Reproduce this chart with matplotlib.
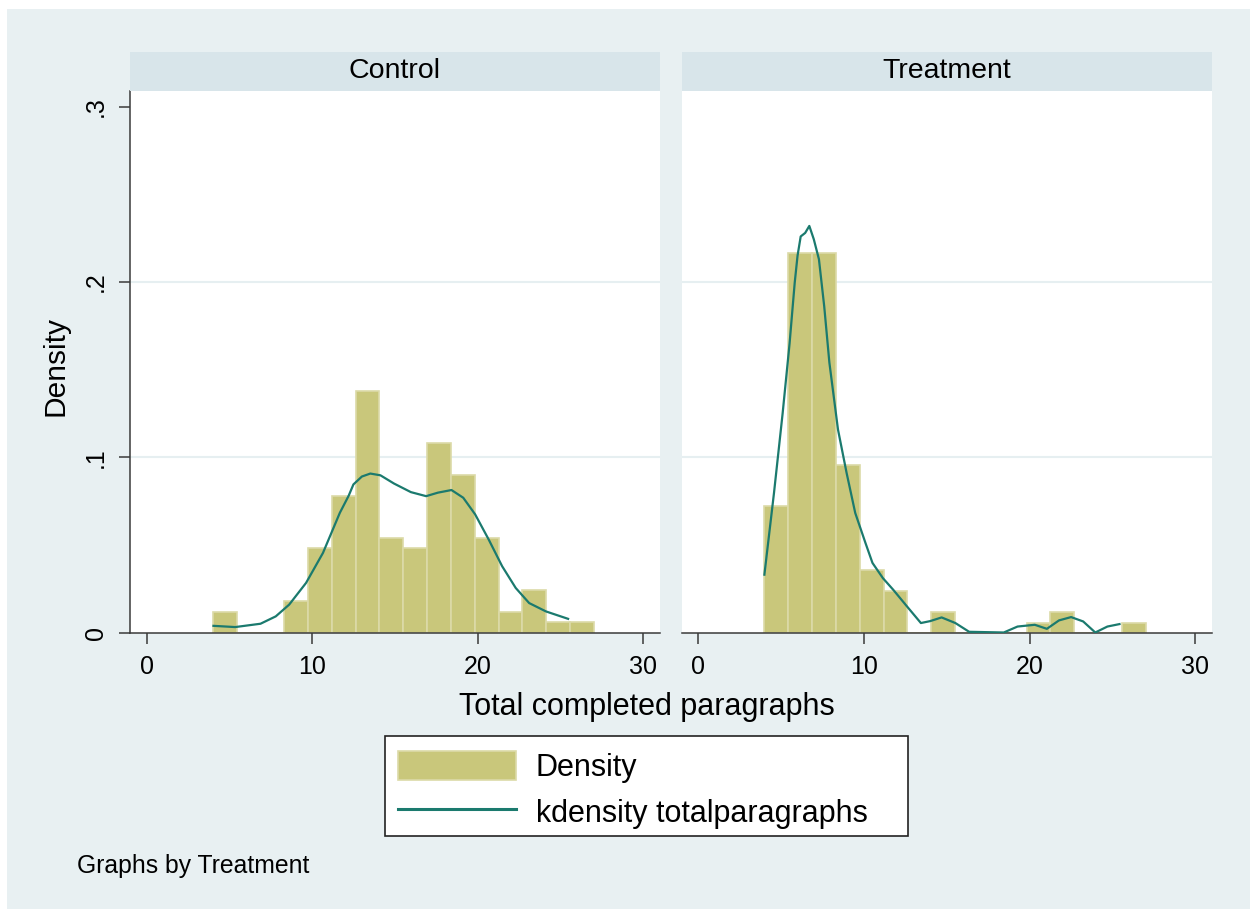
import matplotlib.pyplot as plt
import numpy as np
from matplotlib.patches import Rectangle, Patch
from matplotlib.lines import Line2D

plt.rcParams['font.family'] = ['Liberation Sans', 'DejaVu Sans']

# histogram bins (16 bins from 4 to 27)
bin_lo, bin_hi, n_bins = 4, 27, 16

control_density = [0.0117, 0, 0, 0.018, 0.048, 0.078, 0.138, 0.054, 0.048,
                   0.108, 0.090, 0.054, 0.0117, 0.024, 0.0058, 0.0058]
treat_density = [0.072, 0.2164, 0.2164, 0.0958, 0.0358, 0.0238, 0, 0.0116,
                 0, 0, 0, 0.0057, 0.0116, 0, 0, 0.0057]

control_kx = [4.04, 5.35, 6.88, 7.8, 8.61, 9.63, 10.65, 11.67, 12.2, 12.49, 13.0, 13.51,
              14.12, 14.94, 15.96, 16.88, 17.59, 18.41, 19.12, 19.84, 20.66,
              21.47, 22.29, 23.1, 24.12, 25.45]
control_ky = [0.0038, 0.0031, 0.005, 0.0092, 0.0159, 0.0283, 0.0454, 0.0683, 0.078,
              0.0845, 0.089, 0.0907, 0.0897, 0.085, 0.0801, 0.0778, 0.0798, 0.0813,
              0.0769, 0.0674, 0.053, 0.0378, 0.0254, 0.0168, 0.012, 0.0078]

treat_kx = [4.0, 4.58, 5.1, 5.52, 5.83, 6.0, 6.19, 6.46, 6.71, 6.98, 7.29, 7.61,
            7.92, 8.44, 8.96, 9.48, 10.1, 10.52, 11.15, 11.77, 12.6, 13.44, 14.0,
            14.69, 15.52, 16.35, 18.44, 19.27, 20.31, 21.04, 21.77, 22.5, 23.23,
            23.96, 24.69, 25.42]
treat_ky = [0.033, 0.0797, 0.125, 0.165, 0.1997, 0.215, 0.226, 0.228, 0.232, 0.2244,
            0.213, 0.186, 0.154, 0.1158, 0.091, 0.0682, 0.051, 0.0397, 0.031, 0.0244,
            0.0149, 0.0054, 0.0065, 0.0086, 0.0054, 0.0004, 0.0, 0.0034, 0.0044,
            0.0021, 0.0069, 0.0088, 0.0063, 0.0, 0.0034, 0.0048]

panel_titles = ['Control', 'Treatment']
yticks = [0, 0.1, 0.2, 0.3]
ytick_labels = ['0', '.1', '.2', '.3']
xticks = [0, 10, 20, 30]

W, H = 1250, 909
bg = '#e8f0f2'
strip_col = '#d8e5ea'
bar_col = '#c9c77b'
bar_edge = '#dcdaa8'
line_col = '#1b7a6e'
axis_col = '#3a3a3a'


def fx(px):
    return px / W


def fy(py):
    return 1 - py / H


fig = plt.figure(figsize=(12.5, 9.09), dpi=100, facecolor='white')
fig.add_artist(Rectangle((fx(7), 0), 1 - fx(7), fy(9), transform=fig.transFigure,
                         facecolor=bg, edgecolor='none', zorder=-10))

edges = np.linspace(bin_lo, bin_hi, n_bins + 1)
width = edges[1] - edges[0]

panels = [(130, 660, control_density, control_kx, control_ky),
          (681.5, 1212, treat_density, treat_kx, treat_ky)]
top, bottom = 91, 632.5

for i, (left, right, dens, kx, ky) in enumerate(panels):
    ax = fig.add_axes([fx(left), fy(bottom), fx(right) - fx(left), (bottom - top) / H])
    ax.set_facecolor('white')
    ax.bar(edges[:-1], dens, width=width, align='edge', color=bar_col,
           edgecolor=bar_edge, linewidth=1.2, zorder=2)
    ax.plot(kx, ky, color=line_col, linewidth=1.6, zorder=3)
    for g in [0.1, 0.2]:
        ax.axhline(g, color='#e6eff1', linewidth=1.5, zorder=1)
    ax.set_xlim(-1, 31)
    ax.set_ylim(0, 0.309)
    ax.set_xticks(xticks)
    ax.tick_params(axis='x', direction='out', length=8, width=1.1, color=axis_col,
                   labelsize=18, pad=8)
    for s in ['top', 'right']:
        ax.spines[s].set_visible(False)
    ax.spines['bottom'].set_color(axis_col)
    ax.spines['bottom'].set_linewidth(1.1)
    if i == 0:
        ax.spines['left'].set_color(axis_col)
        ax.spines['left'].set_linewidth(1.1)
        ax.set_yticks(yticks)
        ax.set_yticklabels(ytick_labels, rotation=90, va='center')
        ax.tick_params(axis='y', direction='out', length=8, width=1.1, color=axis_col,
                       labelsize=18, pad=8)
    else:
        ax.spines['left'].set_visible(False)
        ax.set_yticks([])
    # strip on top of panel
    fig.add_artist(Rectangle((fx(left), fy(top)), fx(right) - fx(left), (top - 52) / H,
                             transform=fig.transFigure, facecolor=strip_col,
                             edgecolor='none'))
    fig.text(fx((left + right) / 2), fy(71.5), panel_titles[i], ha='center', va='center',
             fontsize=20.5)

fig.text(fx(55), fy(366), 'Density', rotation=90, ha='center', va='center', fontsize=21.5)
fig.text(fx(646.5), fy(707), 'Total completed paragraphs', ha='center', va='center',
         fontsize=22)
fig.text(fx(77), fy(866), 'Graphs by Treatment', ha='left', va='center', fontsize=17.8)

# legend
fig.add_artist(Rectangle((fx(385), fy(836)), fx(908) - fx(385), (836 - 736) / H,
                         transform=fig.transFigure, facecolor='white',
                         edgecolor='#222222', linewidth=1.2))
handles = [Patch(facecolor=bar_col, edgecolor=bar_edge, linewidth=1.2),
           Line2D([], [], color=line_col, linewidth=2.2)]
fig.legend(handles, ['Density', 'kdensity totalparagraphs'], loc='upper left',
           bbox_to_anchor=(fx(385), fy(738)), frameon=False, fontsize=22,
           handlelength=3.86, handleheight=1.1, handletextpad=0.65,
           borderpad=0.42, borderaxespad=0, labelspacing=0.46)

fig.savefig('out.png', dpi=100, facecolor=fig.get_facecolor())
